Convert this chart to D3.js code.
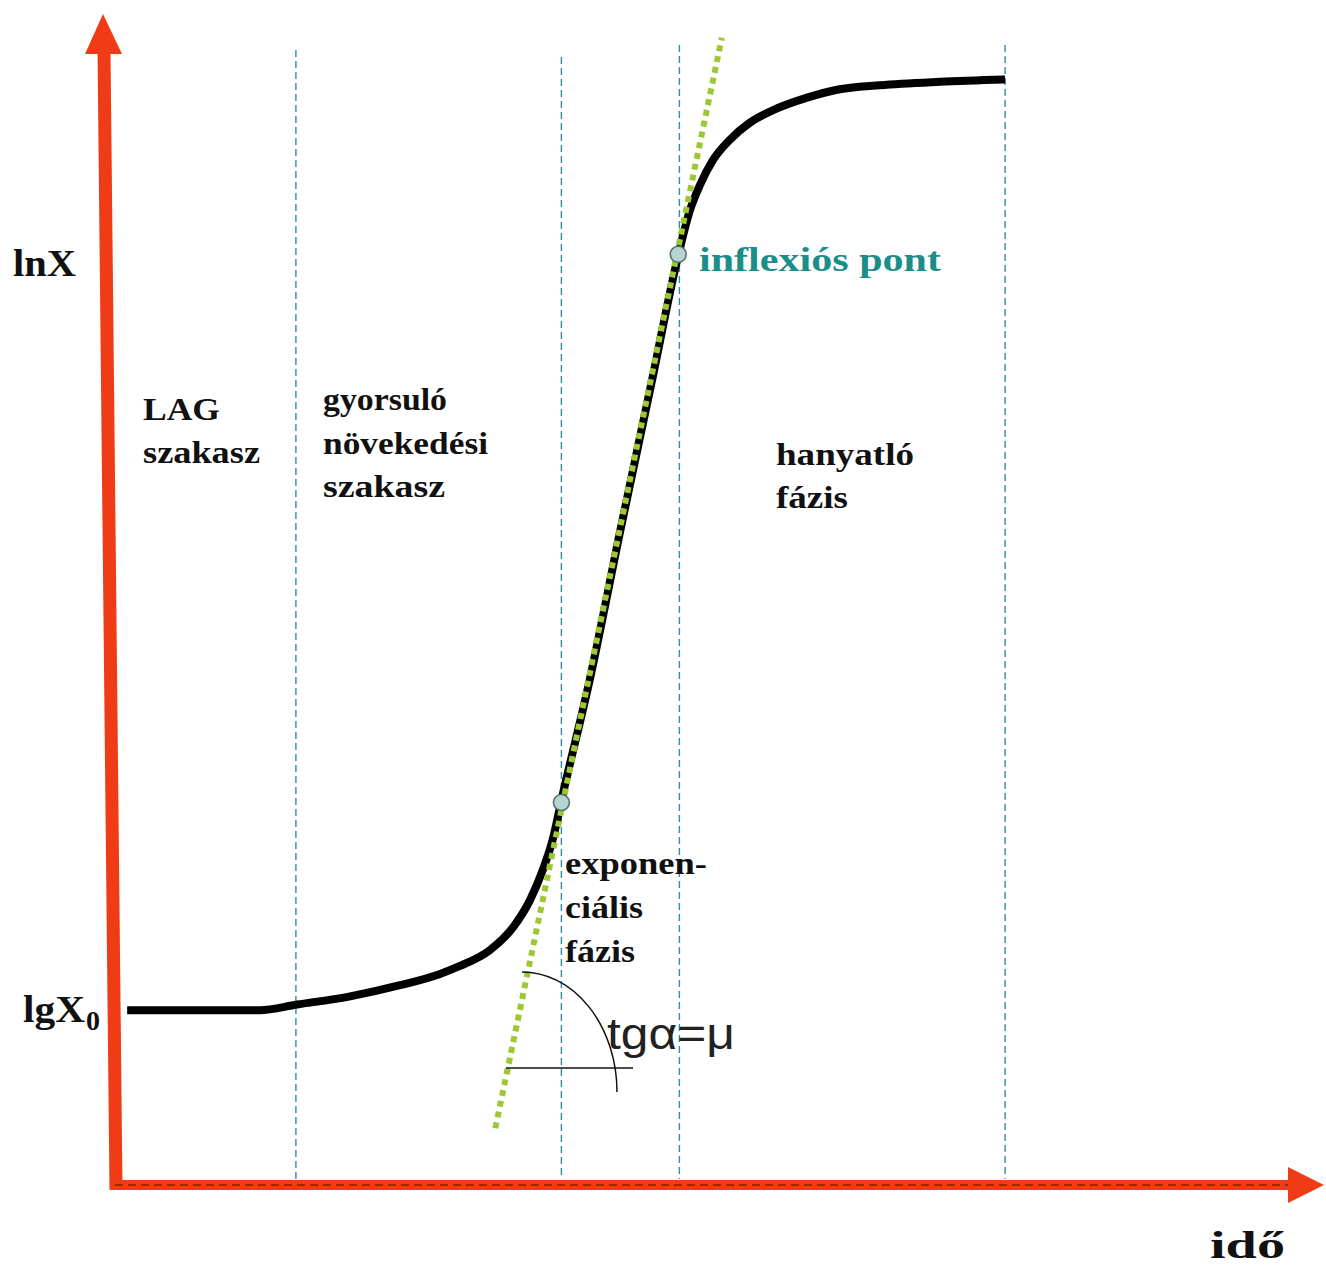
<!DOCTYPE html>
<html>
<head>
<meta charset="utf-8">
<script src="https://cdn.jsdelivr.net/npm/d3@7"></script>
<style>
  html, body { margin: 0; padding: 0; background: #ffffff; }
  svg { display: block; }
</style>
</head>
<body>
<svg id="chart" width="1326" height="1269"></svg>
<script>
// ---- data (time in arbitrary hours, lnX in arbitrary units) ----
const curveTime = [0.6, 6.2, 7.8, 10.0, 12.16, 13.86, 14.7, 15.97, 16.95, 17.67, 18.22, 18.64, 18.98, 20.2, 21.5, 22.8, 23.94, 24.45, 24.87, 25.42, 26.14, 26.99, 27.97, 29.41, 30.68, 32.5, 35.04, 37.8];
const curveLnX  = [1.54, 1.54, 1.59, 1.66, 1.76, 1.86, 1.93, 2.07, 2.27, 2.51, 2.78, 3.05, 3.37, 4.45, 5.77, 7.05, 8.18, 8.59, 8.81, 9.03, 9.21, 9.36, 9.47, 9.58, 9.65, 9.69, 9.72, 9.74];
const phaseBounds = [7.75, 19.0, 24.0, 37.8];
const tangentTime = [16.2, 25.8];
const tangentLnX  = [0.50, 10.11];
const markedTime = [19.0, 23.95];   // exponential start and inflection point
const markedLnX  = [3.37, 8.2];
const axisLabels = { y: "lnX", y0: "lgX", y0sub: "0", x: "idő" };
const phaseLabels = [
  ["LAG", "szakasz"],
  ["gyorsuló", "növekedési", "szakasz"],
  ["exponen-", "ciális", "fázis"],
  ["hanyatló", "fázis"]
];
const inflectionLabel = "inflexiós pont";
const slopeLabel = "tgα=μ";

// ---- scales ----
const W = 1326, H = 1269;
const x = d3.scaleLinear().domain([0, 50]).range([113, 1293]);
const y = d3.scaleLinear().domain([0, 10]).range([1185, 50]);

const svg = d3.select("#chart");
const red = "#ef3b16";
const teal = "#2f8ea3";
const serif = "'Liberation Serif', 'Times New Roman', serif";

// ---- phase boundary dashed lines ----
const lineTops = [50, 57, 45, 45];
svg.append("g").selectAll("line").data(phaseBounds).join("line")
  .attr("x1", d => x(d)).attr("x2", d => x(d))
  .attr("y1", (d, i) => lineTops[i]).attr("y2", y(0) - 6)
  .attr("stroke", teal).attr("stroke-width", 1.4)
  .attr("stroke-dasharray", "7,4");

// ---- axes (arrows) ----
const xAxisY = y(0);
// y axis (slightly slanted like the original)
svg.append("line")
  .attr("x1", x(0) + 3).attr("y1", xAxisY + 5)
  .attr("x2", x(0) - 9).attr("y2", 50)
  .attr("stroke", red).attr("stroke-width", 13);
svg.append("path")
  .attr("d", `M${x(0) - 10},14 L${x(0) - 28},54 L${x(0) + 9},54 Z`)
  .attr("fill", red);
// x axis
svg.append("line")
  .attr("x1", x(0)).attr("y1", xAxisY)
  .attr("x2", x(50) - 2).attr("y2", xAxisY)
  .attr("stroke", red).attr("stroke-width", 10);
svg.append("line")
  .attr("x1", x(0) + 2).attr("y1", xAxisY)
  .attr("x2", x(50) + 20).attr("y2", xAxisY)
  .attr("stroke", "#7a2410").attr("stroke-width", 1.3)
  .attr("stroke-dasharray", "8,5");
svg.append("path")
  .attr("d", `M${x(50) + 31},${xAxisY} L${x(50) - 5},${xAxisY - 18} L${x(50) - 5},${xAxisY + 18} Z`)
  .attr("fill", red);

// ---- growth curve ----
const curveData = curveTime.map((t, i) => [t, curveLnX[i]]);
svg.append("path")
  .datum(curveData)
  .attr("d", d3.line().x(d => x(d[0])).y(d => y(d[1])).curve(d3.curveMonotoneX))
  .attr("fill", "none").attr("stroke", "#000").attr("stroke-width", 8)
  .attr("stroke-linecap", "butt").attr("stroke-linejoin", "round");

// ---- tangent (green dotted) ----
svg.append("line")
  .attr("x1", x(tangentTime[0])).attr("y1", y(tangentLnX[0]))
  .attr("x2", x(tangentTime[1])).attr("y2", y(tangentLnX[1]))
  .attr("stroke", "#9cc834").attr("stroke-width", 6)
  .attr("stroke-dasharray", "6,5");

// ---- marked points ----
svg.append("g").selectAll("circle").data(markedTime).join("circle")
  .attr("cx", d => x(d)).attr("cy", (d, i) => y(markedLnX[i]))
  .attr("r", 8).attr("fill", "#b9d2d2").attr("stroke", "#4d7a6c").attr("stroke-width", 1.6);

// ---- angle mark ----
const angleCx = 522, angleCy = 1092;
svg.append("path")
  .attr("d", `M${angleCx},${angleCy - 120} A95,120 0 0 1 ${angleCx + 95},${angleCy}`)
  .attr("fill", "none").attr("stroke", "#111").attr("stroke-width", 1.5);
svg.append("line")
  .attr("x1", 506).attr("x2", 633).attr("y1", 1068).attr("y2", 1068)
  .attr("stroke", "#111").attr("stroke-width", 1.5);

// ---- texts ----
function label(txt, px, py, size, len, opts = {}) {
  const t = svg.append("text")
    .attr("x", px).attr("y", py)
    .attr("font-family", opts.family || serif)
    .attr("font-weight", opts.weight || "bold")
    .attr("font-size", size)
    .attr("fill", opts.fill || "#111")
    .text(txt);
  if (len) t.attr("textLength", len).attr("lengthAdjust", "spacingAndGlyphs");
  return t;
}

// axis labels
label(axisLabels.y, 13, 276, 38, 63);
label(axisLabels.y0, 23, 1022, 38, 62);
label(axisLabels.y0sub, 86, 1030, 28, 14);
label(axisLabels.x, 1210, 1258, 38, 75);

// phase labels
const phasePos = [
  { x: 143, y: 420, lh: 43, w: [77, 117] },
  { x: 323, y: 410, lh: 43.5, w: [124, 165, 122] },
  { x: 565, y: 874, lh: 44, w: [142, 78, 70] },
  { x: 776, y: 465, lh: 43, w: [138, 72] }
];
phaseLabels.forEach((lines, i) => {
  const p = phasePos[i];
  lines.forEach((ln, j) => label(ln, p.x, p.y + j * p.lh, 32, p.w[j]));
});

label(inflectionLabel, 699, 271, 34, 242, { fill: "#1b8e8a" });
label(slopeLabel, 607, 1049, 44, 128,
      { family: "'Liberation Sans', Arial, sans-serif", weight: "normal", fill: "#222" });
</script>
</body>
</html>
